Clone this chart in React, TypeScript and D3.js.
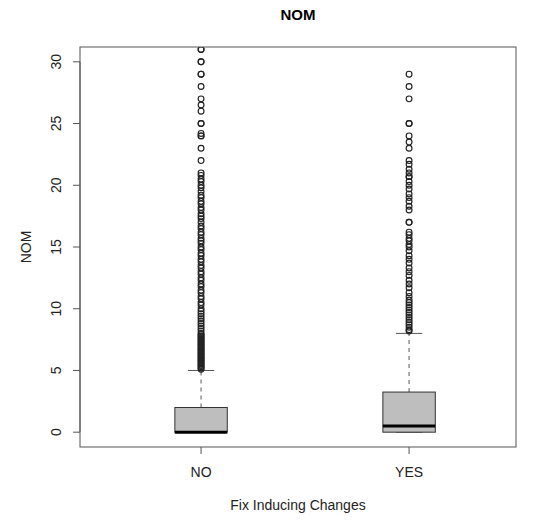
import React from "react";
import * as d3 from "d3";

// Groups and their five-number summaries (lower whisker, Q1, median, Q3, upper whisker)
const groups = ["NO", "YES"];
const lowerWhisker = [0, 0];
const q1 = [0, 0];
const medians = [0, 0.5];
const q3 = [2, 3.25];
const upperWhisker = [5, 8];

// Points beyond the upper fence for each group
const outliersNo = [
  31, 31, 30, 30, 29, 29, 28, 27, 26.5, 26, 25, 25, 24.2, 24, 24, 23, 22,
  21, 20.8, 20.5, 20.3, 20, 19.8, 19.5, 19.2, 19, 18.7, 18.5, 18.2, 18, 17.7,
  17.5, 17.3, 17, 16.7, 16.5, 16.2, 16, 15.7, 15.5, 15.3, 15, 14.8, 14.5,
  14.3, 14, 13.8, 13.5, 13.3, 13, 12.8, 12.5, 12.3, 12, 11.8, 11.5, 11.3, 11,
  10.8, 10.5, 10.3, 10, 9.8, 9.6, 9.4, 9.2, 9, 8.8, 8.6, 8.4, 8.2, 8, 7.9,
  7.8, 7.7, 7.6, 7.5, 7.4, 7.3, 7.2, 7.1, 7, 6.9, 6.8, 6.7, 6.6, 6.5, 6.4,
  6.3, 6.2, 6.1, 6, 5.9, 5.8, 5.7, 5.6, 5.5, 5.4, 5.3, 5.2, 5.1,
];
const outliersYes = [
  29, 28, 27, 25, 25, 24, 23.5, 23, 22, 21.7, 21.3, 21, 20.7, 20.7, 20.3, 20,
  19.7, 19.3, 19, 18.7, 18.3, 18, 17, 17, 16.2, 16, 15.7, 15.5, 15.2, 15,
  14.7, 14.3, 14, 13.7, 13.3, 13, 12.7, 12.3, 12, 11.7, 11.3, 11, 10.7, 10.5,
  10.3, 10.1, 9.9, 9.7, 9.5, 9.3, 9.1, 8.9, 8.7, 8.5, 8.3, 8.2,
];
const yTicks = [0, 5, 10, 15, 20, 25, 30];

const title = "NOM";
const xTitle = "Fix Inducing Changes";
const yTitle = "NOM";

const W = 536;
const H = 520;
const plot = { left: 80, right: 516, top: 47, bottom: 447 };
const font = "'Liberation Sans', Arial, Helvetica, sans-serif";

export default function App() {
  const x = d3.scaleLinear().domain([0.418, 2.514]).range([plot.left, plot.right]);
  const y = d3
    .scaleLinear()
    .domain([-1.2, 31.2])
    .range([plot.bottom, plot.top]);

  const boxHalf = x(1.126) - x(1);
  const capHalf = boxHalf / 2;
  const outliers = [outliersNo, outliersYes];

  return (
    <svg
      width={W}
      height={H}
      viewBox={`0 0 ${W} ${H}`}
      style={{ position: "absolute", left: 0, top: 0, background: "#fff" }}
    >
      <defs>
        <clipPath id="plotClip">
          <rect
            x={plot.left}
            y={plot.top}
            width={plot.right - plot.left}
            height={plot.bottom - plot.top}
          />
        </clipPath>
      </defs>
      <rect width={W} height={H} fill="#fff" />

      {/* Title */}
      <text
        x={(plot.left + plot.right) / 2}
        y={20}
        textAnchor="middle"
        fontFamily={font}
        fontWeight="bold"
        fontSize={15}
        fill="#000"
      >
        {title}
      </text>

      {/* Boxes */}
      <g clipPath="url(#plotClip)">
        {groups.map((g, i) => {
          const cx = x(i + 1);
          return (
            <g key={g}>
              {/* whiskers */}
              <line
                x1={cx}
                x2={cx}
                y1={y(q3[i])}
                y2={y(upperWhisker[i])}
                stroke="#555"
                strokeDasharray="4,4"
              />
              <line
                x1={cx}
                x2={cx}
                y1={y(q1[i])}
                y2={y(lowerWhisker[i])}
                stroke="#555"
                strokeDasharray="4,4"
              />
              <line
                x1={cx - capHalf}
                x2={cx + capHalf}
                y1={y(upperWhisker[i])}
                y2={y(upperWhisker[i])}
                stroke="#555"
              />
              <line
                x1={cx - capHalf}
                x2={cx + capHalf}
                y1={y(lowerWhisker[i])}
                y2={y(lowerWhisker[i])}
                stroke="#555"
              />
              <rect
                x={cx - boxHalf}
                y={y(q3[i])}
                width={boxHalf * 2}
                height={y(q1[i]) - y(q3[i])}
                fill="#bebebe"
                stroke="#333"
              />
              <line
                x1={cx - boxHalf}
                x2={cx + boxHalf}
                y1={y(medians[i])}
                y2={y(medians[i])}
                stroke="#000"
                strokeWidth={3}
              />
              {outliers[i].map((v, k) => (
                <circle
                  key={k}
                  cx={cx}
                  cy={y(v)}
                  r={2.9}
                  fill="none"
                  stroke="#222"
                  strokeWidth={1.15}
                />
              ))}
            </g>
          );
        })}
      </g>

      {/* Frame */}
      <rect
        x={plot.left}
        y={plot.top}
        width={plot.right - plot.left}
        height={plot.bottom - plot.top}
        fill="none"
        stroke="#555"
      />

      {/* Y axis */}
      <line
        x1={plot.left}
        x2={plot.left}
        y1={y(yTicks[0])}
        y2={y(yTicks[yTicks.length - 1])}
        stroke="#555"
      />
      {yTicks.map((t) => (
        <g key={t}>
          <line
            x1={plot.left - 7}
            x2={plot.left}
            y1={y(t)}
            y2={y(t)}
            stroke="#555"
          />
          <text
            transform={`translate(${plot.left - 19},${y(t)}) rotate(-90)`}
            textAnchor="middle"
            fontFamily={font}
            fontSize={14}
            fill="#222"
          >
            {t}
          </text>
        </g>
      ))}

      {/* X axis */}
      {groups.map((g, i) => (
        <g key={g}>
          <line
            x1={x(i + 1)}
            x2={x(i + 1)}
            y1={plot.bottom}
            y2={plot.bottom + 7}
            stroke="#555"
          />
          <text
            x={x(i + 1)}
            y={477}
            textAnchor="middle"
            fontFamily={font}
            fontSize={14}
            fill="#222"
          >
            {g}
          </text>
        </g>
      ))}

      {/* Axis titles */}
      <text
        x={(plot.left + plot.right) / 2}
        y={510}
        textAnchor="middle"
        fontFamily={font}
        fontSize={14}
        fill="#222"
      >
        {xTitle}
      </text>
      <text
        transform={`translate(31,${(plot.top + plot.bottom) / 2}) rotate(-90)`}
        textAnchor="middle"
        fontFamily={font}
        fontSize={14}
        fill="#222"
      >
        {yTitle}
      </text>
    </svg>
  );
}
